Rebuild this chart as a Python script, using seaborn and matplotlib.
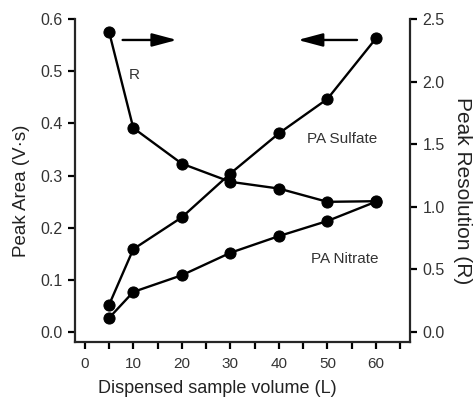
import matplotlib
matplotlib.use("Agg")
import matplotlib.pyplot as plt
from matplotlib.ticker import MultipleLocator
import pandas as pd
import seaborn as sns

# Dispensed sample volume and measured responses
volume = [5, 10, 20, 30, 40, 50, 60]
pa_sulfate = [0.052, 0.159, 0.220, 0.304, 0.381, 0.447, 0.563]
pa_nitrate = [0.027, 0.077, 0.109, 0.152, 0.184, 0.213, 0.250]
resolution = [2.40, 1.63, 1.345, 1.20, 1.146, 1.04, 1.045]

df = pd.DataFrame({"volume": volume, "sulfate": pa_sulfate,
                   "nitrate": pa_nitrate, "R": resolution})

sns.set_style("ticks")
plt.rcParams["font.family"] = ["Liberation Sans", "DejaVu Sans"]
plt.rcParams["axes.linewidth"] = 1.6

fig = plt.figure(figsize=(4.75, 3.98), dpi=100)
ax = fig.add_axes([0.158, 0.1407, 0.705, 0.8113])
ax2 = ax.twinx()

style = dict(color="black", linewidth=1.7, marker="o", markersize=8,
             markeredgecolor="black", markerfacecolor="black")
sns.lineplot(data=df, x="volume", y="sulfate", ax=ax, **style)
sns.lineplot(data=df, x="volume", y="nitrate", ax=ax, **style)
sns.lineplot(data=df, x="volume", y="R", ax=ax2, **style)

ax.set_xlim(-2, 67)
ax.set_ylim(-0.019, 0.6)
ax2.set_ylim(-0.08, 2.5)

ax.xaxis.set_minor_locator(MultipleLocator(5))
ax.set_xticks(range(0, 61, 10))
ax.set_yticks([0.0, 0.1, 0.2, 0.3, 0.4, 0.5, 0.6])
ax.set_yticklabels(["0.0", "0.1", "0.2", "0.3", "0.4", "0.5", "0.6"])
ax2.set_yticks([0.0, 0.5, 1.0, 1.5, 2.0, 2.5])
ax2.set_yticklabels(["0.0", "0.5", "1.0", "1.5", "2.0", "2.5"])

for a in (ax, ax2):
    a.spines["top"].set_visible(False)
    a.tick_params(axis="both", which="both", direction="out", length=5,
                  width=1.6, pad=4, colors="black", labelcolor="#333333")
    a.tick_params(axis="y", labelsize=11.5)
ax.tick_params(axis="x", labelsize=11, pad=6)
ax.spines["right"].set_visible(False)
ax2.spines["left"].set_visible(False)
ax2.spines["bottom"].set_visible(False)

ax.set_xlabel("Dispensed sample volume (L)", fontsize=13, color="#222222",
              labelpad=6, x=0.424)
ax.set_ylabel("Peak Area (V·s)", fontsize=13.5, color="#222222",
              labelpad=7, y=0.467)
ax2.set_ylabel("Peak Resolution (R)", fontsize=15, color="#222222",
               rotation=270, labelpad=20, y=0.47)

# Series labels
ax.text(10.3, 0.493, "R", fontsize=11, color="#333333", ha="center", va="center")
ax.text(53, 0.370, "PA Sulfate", fontsize=11, color="#333333", ha="center", va="center")
ax.text(53.6, 0.140, "PA Nitrate", fontsize=11, color="#333333", ha="center", va="center")

# Arrows pointing to the axis each curve belongs to
arrow = dict(arrowstyle="-|>,head_length=1.5,head_width=0.4", color="black", lw=1.7,
             shrinkA=0, shrinkB=0)
ax.annotate("", xy=(19.0, 0.56), xytext=(7.8, 0.56), arrowprops=arrow)
ax.annotate("", xy=(43.9, 0.56), xytext=(56.1, 0.56), arrowprops=arrow)

fig.savefig("out.png", dpi=100)
